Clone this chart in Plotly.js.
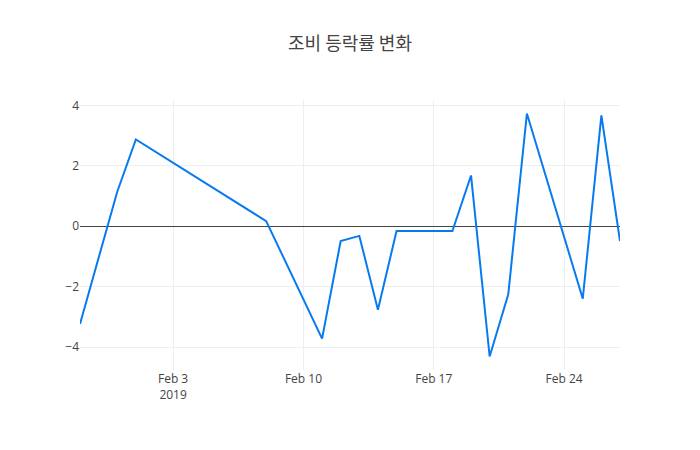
<!DOCTYPE html>
<html>
<head>
<meta charset="utf-8">
<script src="https://cdn.plot.ly/plotly-3.0.1.min.js"></script>
<style>html,body{margin:0;padding:0;background:#fff;}#chart{width:700px;height:450px;}</style>
</head>
<body>
<div id="chart"></div>
<script>
const dates = ["2019-01-29","2019-01-31","2019-02-01","2019-02-08","2019-02-11","2019-02-12","2019-02-13","2019-02-14","2019-02-15","2019-02-18","2019-02-19","2019-02-20","2019-02-21","2019-02-22","2019-02-25","2019-02-26","2019-02-27"];
const changeRates = [-3.23, 1.14, 2.87, 0.17, -3.72, -0.49, -0.32, -2.76, -0.16, -0.16, 1.68, -4.31, -2.25, 3.73, -2.40, 3.67, -0.49];
const titleText = "조비 등락률 변화";

Plotly.newPlot("chart", [{
  x: dates,
  y: changeRates,
  type: "scatter",
  mode: "lines",
  line: {color: "rgb(8,122,240)", width: 2}
}], {
  width: 700,
  height: 450,
  title: {text: titleText, font: {family: "Noto Sans CJK KR, Open Sans, sans-serif", size: 18, color: "#444"}},
  font: {family: "Open Sans, sans-serif", size: 12, color: "#444"},
  xaxis: {showgrid: true, gridcolor: "#eee", zeroline: false},
  yaxis: {showgrid: true, gridcolor: "#eee", zeroline: true, zerolinecolor: "#444", zerolinewidth: 1},
  paper_bgcolor: "#fff",
  plot_bgcolor: "#fff",
  showlegend: false
}, {displayModeBar: false});
</script>
</body>
</html>
